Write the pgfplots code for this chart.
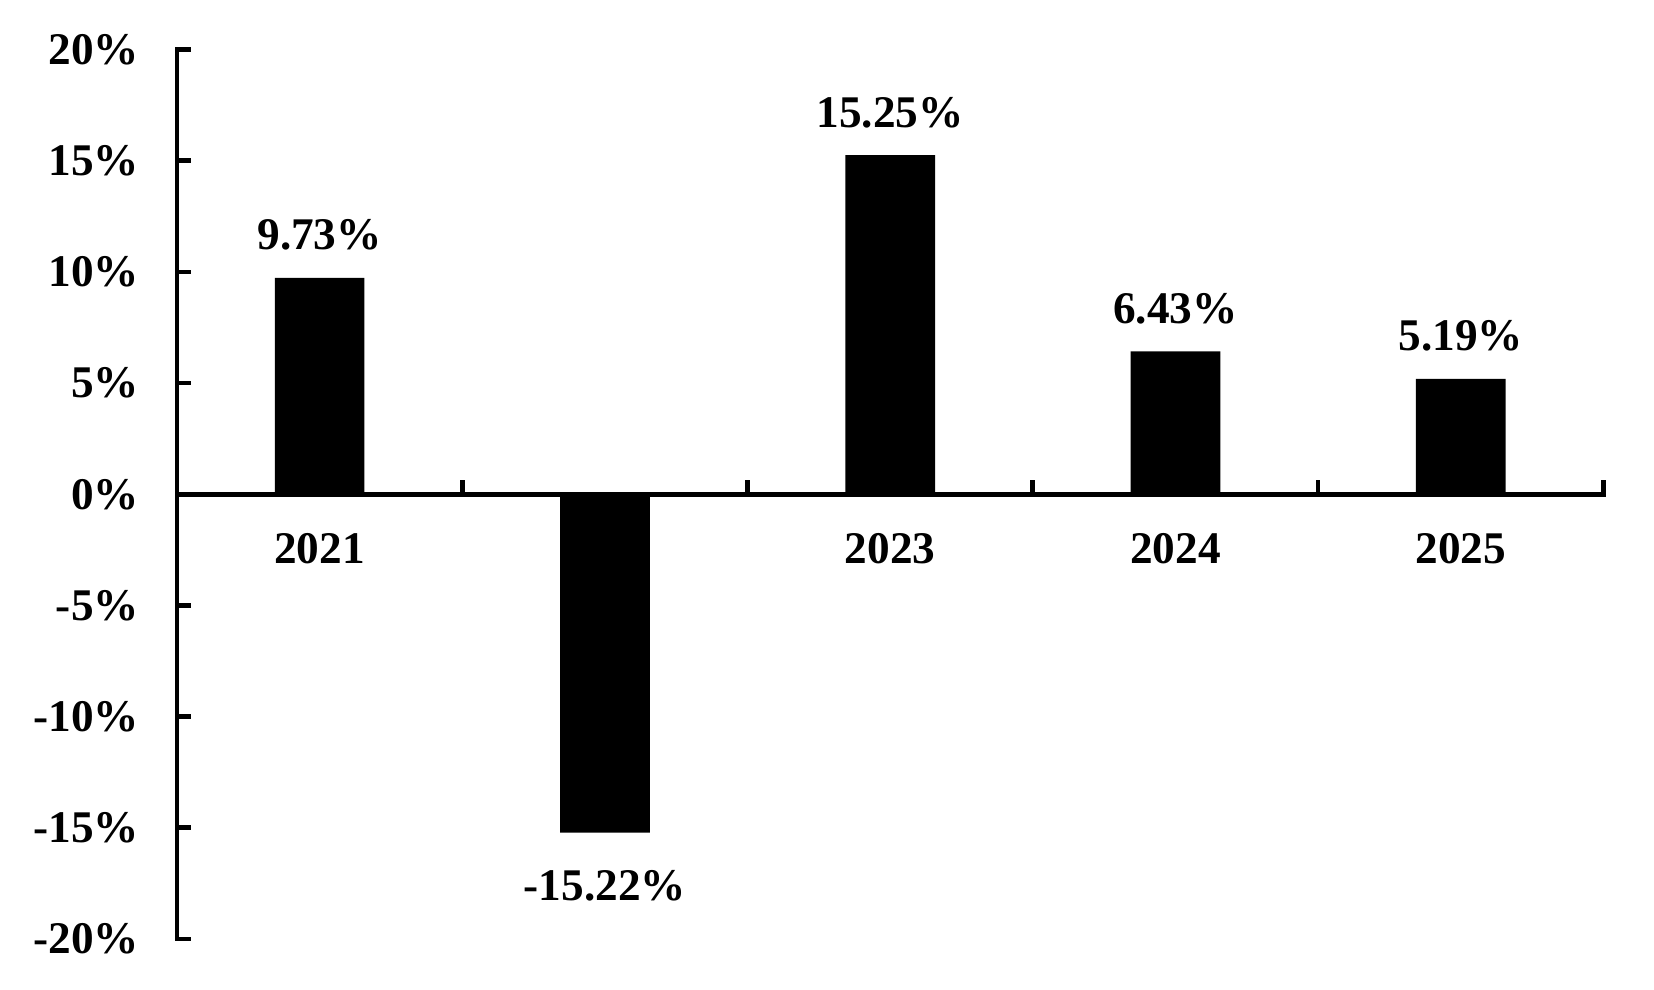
\documentclass[border=0pt]{standalone}
\usepackage{pgfplots}
\pgfplotsset{compat=1.18}
\usepackage{fontspec}
\setmainfont{Liberation Serif}
\begin{document}
\begin{tikzpicture}[x=1pt,y=1pt]
\path[use as bounding box] (-63.72,-18.36) rectangle (531.72,338.04);
\begin{axis}[
  at={(0,0)}, anchor=south west,
  scale only axis, width=513.5pt, height=320.2pt,
  xmin=-0.5, xmax=4.5, ymin=-20, ymax=20,
  axis x line*=middle, axis y line*=left,
  axis line style={line width=1.7pt, line cap=rect},
  every tick/.style={line width=1.7pt, black},
  ybar, bar width=32.3pt, bar shift=0pt,
  xtick align=inside, ytick align=inside,
  major tick length=5pt,
  xtick={0.5,1.5,2.5,3.5,4.5},
  xticklabels={},
  extra x ticks={0,1,2,3,4},
  extra x tick labels={2021,,2023,2024,2025},
  extra x tick style={major tick length=0pt},
  ytick={-20,-15,-10,-5,0,5,10,15,20},
  yticklabels={-20\%,-15\%,-10\%,-5\%,0\%,5\%,10\%,15\%,20\%},
  tick label style={font=\fontsize{16.3}{19}\selectfont\bfseries},
  xticklabel style={inner sep=0pt, yshift=-14pt},
  yticklabel style={inner sep=0pt, xshift=-13.5pt},
  visualization depends on={y \as \rawy},
  nodes near coords={\pgfmathprintnumber[fixed,fixed zerofill,precision=2,assume math mode=true]{\pgfplotspointmeta}\%},
  every node near coord/.append style={font=\fontsize{16.3}{19}\selectfont\bfseries, inner xsep=0pt, inner ysep=9.7pt, yshift={(\rawy<0)*(-3.5)}},
]
\addplot[fill=black, draw=none] coordinates {(0,9.73) (1,-15.22) (2,15.25) (3,6.43) (4,5.19)};
\end{axis}
\end{tikzpicture}
\end{document}
